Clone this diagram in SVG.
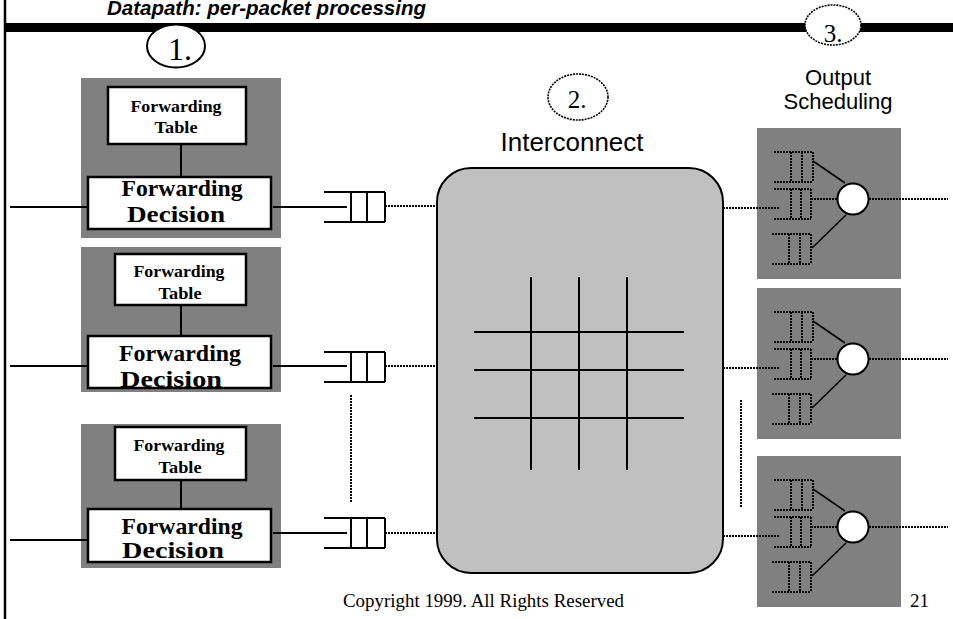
<svg xmlns="http://www.w3.org/2000/svg" xmlns:xlink="http://www.w3.org/1999/xlink" width="953" height="619" viewBox="0 0 953 619">
  <style>
    .bg { fill: #ffffff; }
    .frame { stroke: #000; fill: none; }
    .gray { fill: #808080; }
    .box { fill: #fff; stroke: #000; stroke-width: 2.5; }
    .wire { stroke: #000; stroke-width: 2; fill: none; }
    .dot { stroke: #000; stroke-width: 2; stroke-dasharray: 2 1; fill: none; }
    .grid { stroke: #000; stroke-width: 2; }
    .sm { font-family: "Liberation Serif", "Times New Roman", serif; font-weight: bold; font-size: 16.5px; text-anchor: middle; fill: #000; }
    .bg-l { font-family: "Liberation Serif", "Times New Roman", serif; font-weight: bold; font-size: 23px; text-anchor: middle; fill: #000; }
    .num { font-family: "Liberation Serif", "Times New Roman", serif; font-size: 25px; text-anchor: middle; fill: #000; }
    .sans { font-family: "Liberation Sans", Arial, sans-serif; fill: #000; text-anchor: middle; }
    .foot { font-family: "Liberation Serif", "Times New Roman", serif; font-size: 19px; fill: #000; }
  </style>
  <defs>
    <!-- input queue: two rails and three slots, origin at left end of the centre line -->
    <g id="inq">
      <path class="wire" d="M0,-15 H61 M0,15 H61 M27,-15 V15 M43,-15 V15 M61,-15 V15"/>
    </g>
    <!-- output scheduler: three queues merged by a round-robin server -->
    <g id="sched">
      <rect class="gray" x="0" y="0" width="144" height="151"/>
      <path class="dot" d="M17,24 H56 M17,54 H56 M34,24 V54 M45,24 V54 M56,24 V54"/>
      <path class="dot" d="M17,61 H54 M17,91 H54 M34,61 V91 M44,61 V91 M54,61 V91"/>
      <path class="dot" d="M15,106 H54 M15,136 H54 M32,106 V136 M43,106 V136 M54,106 V136"/>
      <path stroke="#000" stroke-width="1.6" fill="none" d="M56,33 L88,55 M55,120 L89,87"/>
      <path class="dot" d="M54,71 H81"/>
      <circle cx="96" cy="71" r="15.5" fill="#fff" stroke="#000" stroke-width="2"/>
    </g>
  </defs>

  <rect class="bg" x="0" y="0" width="953" height="619"/>

  <!-- slide frame and title -->
  <g id="title">
    <text x="107" y="15" font-family="'Liberation Sans', Arial, sans-serif" font-weight="bold" font-style="italic" font-size="20.5">Datapath: per-packet processing</text>
    <line class="frame" x1="5" y1="0" x2="5" y2="619" stroke-width="2.5"/>
    <rect x="5" y="23" width="948" height="9" fill="#000"/>
  </g>

  <!-- stage markers -->
  <g id="stage1">
    <ellipse cx="176" cy="46" rx="29" ry="21.5" fill="#fff" stroke="#000" stroke-width="2"/>
    <text x="180" y="60" font-family="'Liberation Serif', 'Times New Roman', serif" font-size="32" text-anchor="middle">1.</text>
  </g>
  <g id="stage2">
    <ellipse cx="578" cy="97" rx="30" ry="23" fill="#fff" stroke="#000" stroke-width="1.6" stroke-dasharray="2 1"/>
    <text class="num" x="577" y="108">2.</text>
  </g>
  <g id="stage3">
    <ellipse cx="833" cy="25" rx="28" ry="20" fill="#fff" stroke="#000" stroke-width="1.6" stroke-dasharray="2 1"/>
    <text class="num" x="833" y="42">3.</text>
  </g>

  <g id="label-interconnect">
    <text class="sans" x="572" y="151" font-size="25" textLength="143" lengthAdjust="spacingAndGlyphs">Interconnect</text>
  </g>
  <g id="label-scheduling">
    <text class="sans" x="838" y="84.5" font-size="22">Output</text>
    <text class="sans" x="838" y="108.5" font-size="22">Scheduling</text>
  </g>

  <!-- input line cards -->
  <g id="linecard1">
    <rect class="gray" x="81" y="78" width="200" height="160"/>
    <rect class="box" x="108" y="87" width="138" height="57"/>
    <line class="wire" x1="181" y1="144" x2="181" y2="177"/>
    <rect class="box" x="88" y="177" width="183" height="52" stroke-width="3"/>
    <text class="sm" x="176" y="112" textLength="91" lengthAdjust="spacingAndGlyphs">Forwarding</text>
    <text class="sm" x="176" y="133" textLength="43" lengthAdjust="spacingAndGlyphs">Table</text>
    <text class="bg-l" x="182" y="196" textLength="121" lengthAdjust="spacingAndGlyphs">Forwarding</text>
    <text class="bg-l" x="176" y="222" textLength="98" lengthAdjust="spacingAndGlyphs">Decision</text>
  </g>
  <g id="linecard2">
    <rect class="gray" x="81" y="247" width="200" height="145"/>
    <rect class="box" x="115" y="254" width="131" height="51"/>
    <line class="wire" x1="181" y1="305" x2="181" y2="336"/>
    <rect class="box" x="88" y="336" width="183" height="52" stroke-width="3"/>
    <text class="sm" x="179" y="277" textLength="91" lengthAdjust="spacingAndGlyphs">Forwarding</text>
    <text class="sm" x="180" y="299" textLength="43" lengthAdjust="spacingAndGlyphs">Table</text>
    <text class="bg-l" x="180" y="361" textLength="122" lengthAdjust="spacingAndGlyphs">Forwarding</text>
    <text class="bg-l" x="171" y="387" textLength="102" lengthAdjust="spacingAndGlyphs">Decision</text>
  </g>
  <g id="linecard3">
    <rect class="gray" x="81" y="424" width="200" height="144"/>
    <rect class="box" x="115" y="427" width="131" height="53"/>
    <line class="wire" x1="181" y1="480" x2="181" y2="509"/>
    <rect class="box" x="88" y="509" width="183" height="53" stroke-width="3"/>
    <text class="sm" x="179" y="451" textLength="91" lengthAdjust="spacingAndGlyphs">Forwarding</text>
    <text class="sm" x="180" y="473" textLength="43" lengthAdjust="spacingAndGlyphs">Table</text>
    <text class="bg-l" x="182" y="534" textLength="121" lengthAdjust="spacingAndGlyphs">Forwarding</text>
    <text class="bg-l" x="173" y="558" textLength="102" lengthAdjust="spacingAndGlyphs">Decision</text>
  </g>

  <!-- input queues -->
  <g id="queue1"><use xlink:href="#inq" x="324" y="207"/></g>
  <g id="queue2"><use xlink:href="#inq" x="324" y="367"/></g>
  <g id="queue3"><use xlink:href="#inq" x="324" y="533"/></g>

  <!-- switch fabric -->
  <g id="interconnect">
    <rect x="437" y="168" width="286" height="405" rx="34" ry="34" fill="#c0c0c0" stroke="#000" stroke-width="2"/>
    <path class="grid" d="M531,277 V470 M579,277 V470 M627,277 V470 M474,332 H684 M474,370 H684 M474,418 H684"/>
  </g>

  <!-- output schedulers -->
  <g id="sched1"><use xlink:href="#sched" x="757" y="128"/></g>
  <g id="sched2"><use xlink:href="#sched" x="757" y="288"/></g>
  <g id="sched3"><use xlink:href="#sched" x="757" y="456"/></g>

  <!-- links between stages -->
  <g id="connectors">
    <path class="wire" d="M10,207 H88 M10,366 H88 M10,540 H88"/>
    <path class="wire" d="M273,207 H347 M273,366 H347 M273,533 H347"/>
    <path class="dot" d="M385,206 H437 M385,366 H437 M385,533 H437"/>
    <path class="dot" d="M723,208 H779 M723,368 H779 M723,536 H779"/>
    <path class="dot" d="M869,199 H948 M869,359 H948 M869,527 H948"/>
    <path class="dot" d="M351,395 V502 M741,400 V507"/>
  </g>

  <g id="footer">
    <text class="foot" x="343" y="607" textLength="281" lengthAdjust="spacingAndGlyphs">Copyright 1999. All Rights Reserved</text>
    <text class="foot" x="910" y="607" font-size="20">21</text>
  </g>
</svg>
